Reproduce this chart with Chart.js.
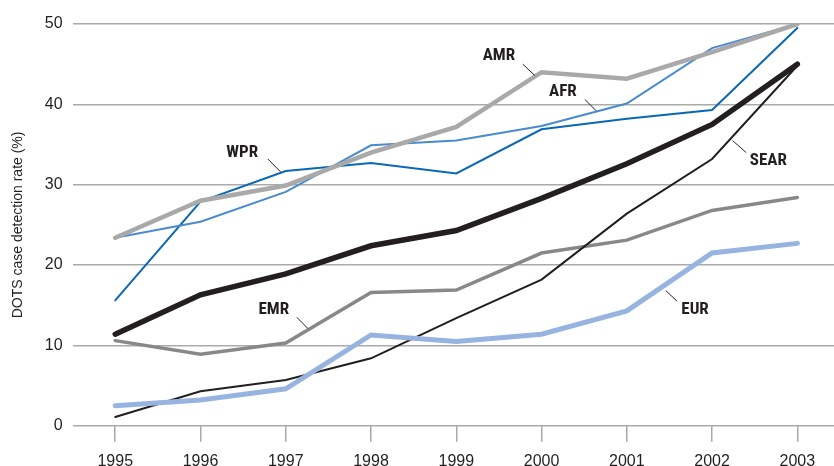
<!DOCTYPE html>
<html>
<head>
<meta charset="utf-8">
<script src="https://cdn.jsdelivr.net/npm/chart.js@4/dist/chart.umd.min.js"></script>
<style>
  html, body { margin: 0; padding: 0; background: #fff; }
  #wrap { width: 834px; height: 466px; position: relative; }
</style>
</head>
<body>
<div id="wrap"><canvas id="chart"></canvas></div>
<script>
const years = [1995, 1996, 1997, 1998, 1999, 2000, 2001, 2002, 2003];
const yTicks = [0, 10, 20, 30, 40, 50];

const amr = [23.4, 28.0, 29.9, 34.0, 37.2, 44.0, 43.2, 46.5, 50.0];
const afr = [23.4, 25.4, 29.1, 34.9, 35.5, 37.3, 40.1, 47.0, 50.0];
const wpr = [15.6, 27.9, 31.7, 32.7, 31.4, 36.9, 38.2, 39.3, 49.5];
const global = [11.4, 16.3, 18.9, 22.4, 24.3, 28.3, 32.6, 37.5, 45.0];
const sear = [1.1, 4.3, 5.7, 8.4, 13.4, 18.2, 26.4, 33.2, 44.8];
const emr = [10.6, 8.9, 10.3, 16.6, 16.9, 21.5, 23.1, 26.8, 28.4];
const eur = [2.5, 3.2, 4.6, 11.3, 10.5, 11.4, 14.3, 21.5, 22.7];

// label text, label anchor (year, value), leader line from/to (year, value)
const regionLabels = [
  { text: "WPR", at: [1996.49, 34.0], from: [1996.79, 33.2], to: [1996.94, 31.6] },
  { text: "AMR", at: [1999.5, 46.0], from: [1999.78, 45.0], to: [1999.92, 43.6] },
  { text: "AFR", at: [2000.25, 41.6], from: [2000.51, 40.6], to: [2000.64, 39.2] },
  { text: "SEAR", at: [2002.66, 33.0], from: [2002.4, 34.0], to: [2002.24, 35.5] },
  { text: "EMR", at: [1996.86, 14.5], from: [1997.13, 13.5], to: [1997.26, 12.1] },
  { text: "EUR", at: [2001.8, 14.5], from: [2001.59, 15.5], to: [2001.46, 16.8] },
];

function series(values) {
  return values.map((v, i) => ({ x: years[i], y: v }));
}

const labelPlugin = {
  id: "regionLabels",
  afterDatasetsDraw(chart) {
    const { ctx, scales: { x, y } } = chart;
    ctx.save();
    ctx.strokeStyle = "#231f20";
    ctx.lineWidth = 1;
    regionLabels.forEach((l) => {
      ctx.beginPath();
      ctx.moveTo(x.getPixelForValue(l.from[0]), y.getPixelForValue(l.from[1]));
      ctx.lineTo(x.getPixelForValue(l.to[0]), y.getPixelForValue(l.to[1]));
      ctx.stroke();
      ctx.fillStyle = "#231f20";
      ctx.font = "bold 17px 'Liberation Sans Narrow', 'Roboto Condensed', Arial, sans-serif";
      ctx.textAlign = "center";
      ctx.textBaseline = "middle";
      ctx.fillText(l.text, x.getPixelForValue(l.at[0]), y.getPixelForValue(l.at[1]));
    });
    ctx.restore();
  },
};

new Chart(document.getElementById("chart"), {
  type: "line",
  data: {
    datasets: [
      { label: "Global", data: series(global), borderColor: "#231f20", borderWidth: 5.5, order: 1 },
      { label: "EUR", data: series(eur), borderColor: "#97b4e0", borderWidth: 5, order: 2 },
      { label: "SEAR", data: series(sear), borderColor: "#231f20", borderWidth: 2, order: 3 },
      { label: "EMR", data: series(emr), borderColor: "#888888", borderWidth: 3.5, order: 4 },
      { label: "AMR", data: series(amr), borderColor: "#a9a9a9", borderWidth: 4.5, order: 5 },
      { label: "AFR", data: series(afr), borderColor: "#4a8bd0", borderWidth: 2, order: 6 },
      { label: "WPR", data: series(wpr), borderColor: "#0a68b4", borderWidth: 2, order: 7 },
    ],
  },
  options: {
    responsive: true,
    maintainAspectRatio: false,
    animation: false,
    layout: { padding: { top: 24, right: 0, bottom: -15, left: 10 } },
    elements: { point: { radius: 0 }, line: { tension: 0, borderJoinStyle: "miter", borderCapStyle: "round" } },
    plugins: { legend: { display: false }, tooltip: { enabled: false } },
    scales: {
      x: {
        type: "linear",
        min: 1994.5,
        max: 2003.43,
        afterBuildTicks: (axis) => { axis.ticks = years.map((v) => ({ value: v })); },
        border: { display: false },
        grid: { drawOnChartArea: false, drawTicks: true, tickLength: 16, color: "#aaaaaa", lineWidth: 1.5 },
        ticks: {
          color: "#231f20",
          padding: 10,
          font: { family: "'Liberation Sans', Arial, sans-serif", size: 16 },
          callback: (v) => String(v),
          maxRotation: 0,
        },
      },
      y: {
        min: 0,
        max: 50,
        afterBuildTicks: (axis) => { axis.ticks = yTicks.map((v) => ({ value: v })); },
        border: { display: false },
        grid: { color: "#aaaaaa", lineWidth: 1.5, drawTicks: false },
        ticks: {
          color: "#231f20",
          padding: 10,
          font: { family: "'Liberation Sans', Arial, sans-serif", size: 16 },
        },
        title: {
          display: true,
          text: "DOTS case detection rate (%)",
          color: "#231f20",
          padding: { top: 0, bottom: 8 },
          font: { family: "'Liberation Sans', Arial, sans-serif", size: 14 },
        },
      },
    },
  },
  plugins: [labelPlugin],
});
</script>
</body>
</html>
